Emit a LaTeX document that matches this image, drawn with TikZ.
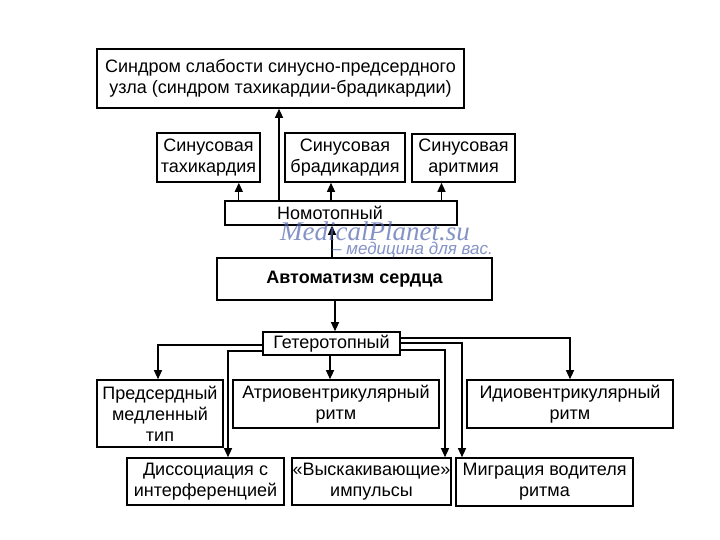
\documentclass[tikz,border=0pt]{standalone}
\usepackage{fontspec}
\setmainfont{Liberation Sans}
\newfontfamily\wmserif{Liberation Serif}
\usetikzlibrary{arrows.meta}
\definecolor{wmblue}{RGB}{80,100,175}
\tikzset{
  box/.style={draw, line width=1.6pt, align=center, inner sep=0pt,
    font=\fontsize{18}{21}\selectfont},
  conn/.style={line width=1.2pt, -{Triangle[length=9pt,width=8pt]}},
}
\begin{document}
\begin{tikzpicture}[x=1pt,y=-1pt]
\useasboundingbox[fill=white] (0,0) rectangle (720,540);
% nodes
\node[box, minimum width=367pt, minimum height=59pt] (top) at (280.5,78.5)
  {Синдром слабости синусно-предсердного\\узла (синдром тахикардии-брадикардии)};
\node[box, minimum width=103pt, minimum height=49pt] (tachy) at (208.5,157.5) {Синусовая\\тахикардия};
\node[box, minimum width=120pt, minimum height=49pt] (brady) at (345,157.5) {Синусовая\\брадикардия};
\node[box, minimum width=103pt, minimum height=48pt] (arrh) at (463.5,158) {Синусовая\\аритмия};
\node[box, minimum width=232pt, minimum height=24pt] (nomo) at (341,213) {\hspace*{-22pt}Номотопный};
\node[box, minimum width=275pt, minimum height=42pt, font=\fontsize{18}{21}\selectfont\bfseries] (avto) at (354.5,279) {Автоматизм сердца};
\node[box, minimum width=137pt, minimum height=23pt] (geter) at (331.5,343.5) {Гетеротопный};
\node[box, minimum width=126pt, minimum height=67pt] (pred) at (160,413.5) {Предсердный\\медленный\\тип};
\node[box, minimum width=206pt, minimum height=48pt] (atrio) at (336,404) {Атриовентрикулярный\\ритм};
\node[box, minimum width=206pt, minimum height=48pt] (idio) at (570,404) {Идиовентрикулярный\\ритм};
\node[box, minimum width=157pt, minimum height=47pt] (diss) at (205.5,481.5) {Диссоциация с\\интерференцией};
\node[box, minimum width=159pt, minimum height=47pt] (vysk) at (371.5,481.5) {«Выскакивающие»\\импульсы};
\node[box, minimum width=177pt, minimum height=48pt] (migr) at (544.5,482) {Миграция водителя\\ритма};
% connectors: nomotopic
\draw[conn] ([xshift=-1.5pt]top.south |- nomo.north) -- ([xshift=-1.5pt]top.south);
\draw[conn] ([xshift=-22pt]tachy.south east |- nomo.north) -- ([xshift=-22pt]tachy.south east);
\draw[conn] ([xshift=-14pt]brady.south |- nomo.north) -- ([xshift=-14pt]brady.south);
\draw[conn] ([xshift=-22pt]arrh.south |- nomo.north) -- ([xshift=-22pt]arrh.south);
\draw[conn] ([xshift=-22.5pt]avto.north) -- ([xshift=-22.5pt]avto.north |- nomo.south);
% heterotopic
\draw[conn] ([xshift=-19.5pt]avto.south) -- ([xshift=-19.5pt]avto.south |- geter.north);
\draw[conn] ([xshift=-1.5pt]geter.south) -- ([xshift=-1.5pt]geter.south |- atrio.north);
\draw[conn] ([yshift=-1.5pt]geter.west) -| ([xshift=-2pt]pred.north);
\draw[conn] ([yshift=-7.5pt]geter.west) -| ([xshift=22.5pt]diss.north);
\draw[conn] ([yshift=5.5pt]geter.east) -| (idio.north);
\draw[conn] ([yshift=0.5pt]geter.east) -| ([xshift=-82.5pt]migr.north);
\draw[conn] ([yshift=-6.5pt]geter.east) -| ([xshift=73.5pt]vysk.north);
% watermark
\node[text=wmblue, opacity=0.7, font=\wmserif\itshape\fontsize{27}{27}\selectfont, anchor=west, inner sep=0pt] (wm1) at (280,231) {MedicalPlanet.su};
\node[text=wmblue, opacity=0.7, font=\itshape\fontsize{17}{17}\selectfont, anchor=west, inner sep=0pt] (wm2) at (332,250) {– медицина для вас.};
\end{tikzpicture}
\end{document}
